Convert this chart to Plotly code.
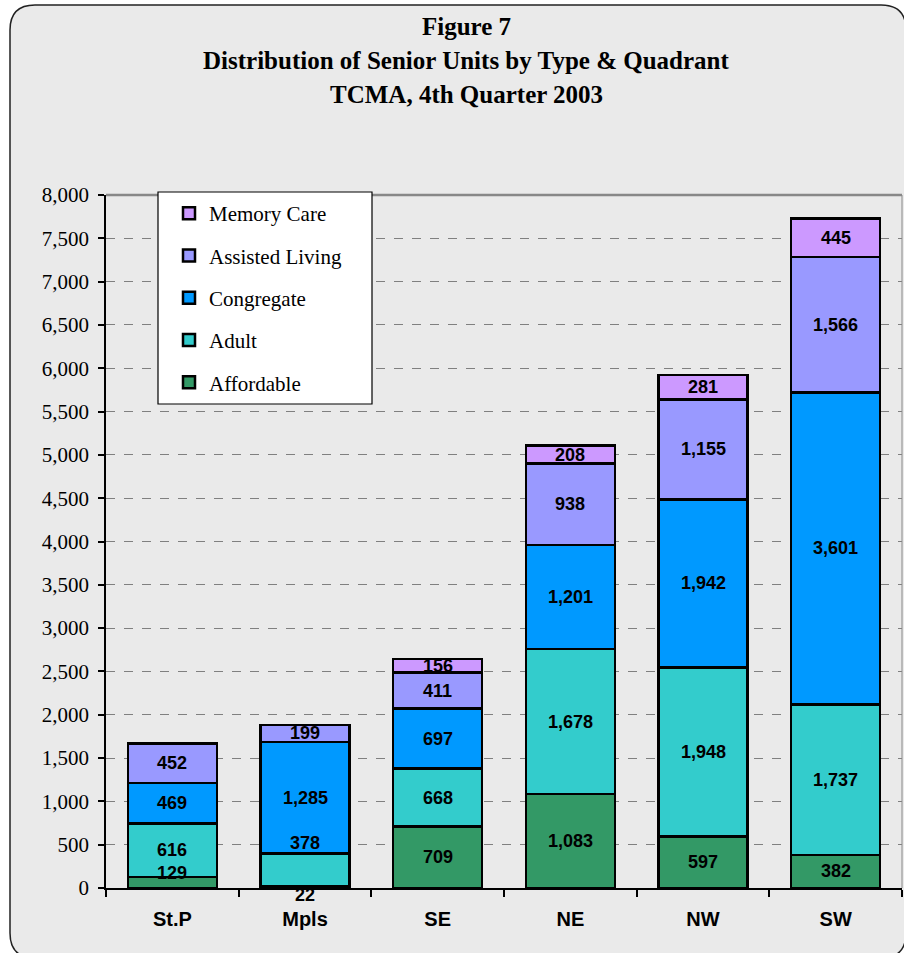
import plotly.graph_objects as go

# ---- data ----
categories = ["St.P", "Mpls", "SE", "NE", "NW", "SW"]
affordable = [129, 22, 709, 1083, 597, 382]
adult = [616, 378, 668, 1678, 1948, 1737]
congregate = [469, 1285, 697, 1201, 1942, 3601]
assisted = [452, 199, 411, 938, 1155, 1566]
memory = [None, None, 156, 208, 281, 445]
series_names = ["Affordable", "Adult", "Congregate", "Assisted Living", "Memory Care"]
series_values = [affordable, adult, congregate, assisted, memory]
y_ticks = list(range(0, 8001, 500))
title_lines = ["Figure 7", "Distribution of Senior Units by Type &amp; Quadrant", "TCMA, 4th Quarter 2003"]

# ---- style ----
colors = ["#339966", "#33CCCC", "#0099FF", "#9999FF", "#CC99FF"]
W, H = 904, 953
ML, MR, MT, MB = 106, 2, 195, 65
PW, PH = W - ML - MR, H - MT - MB
SERIF = "Liberation Serif, Times New Roman, serif"
SANS = "Liberation Sans, Arial, sans-serif"
# label nudges (px) mimicking the original label placement
label_shift = {("St.P", 0): 9, ("Mpls", 0): -8, ("Mpls", 1): 27}


def px(x):
    return (x - ML) / PW


def py(y):
    return (H - MB - y) / PH


fig = go.Figure()
n = len(series_names)
for i, (name, vals) in enumerate(zip(series_names, series_values)):
    fig.add_trace(go.Bar(
        x=categories, y=vals, name=name, legendgroup=name, legendrank=n - i,
        marker=dict(color=colors[i], line=dict(color="black", width=2.5)),
        hoverinfo="skip",
    ))

# data labels from the stacked values
annotations = []
for ci, cat in enumerate(categories):
    base = 0
    for si, vals in enumerate(series_values):
        v = vals[ci]
        if v is None:
            continue
        annotations.append(dict(
            x=cat, y=base + v / 2, xref="x", yref="y", text=f"{v:,}",
            showarrow=False, yshift=label_shift.get((cat, si), 0),
            font=dict(family=SANS, size=18, color="black", weight="bold"),
        ))
        base += v

# title lines
for t, ypx in zip(title_lines, [26, 60, 94]):
    annotations.append(dict(
        x=px(466), xref="paper", y=py(ypx), yref="paper", text=f"<b>{t}</b>",
        showarrow=False, xanchor="center", yanchor="middle",
        font=dict(family=SERIF, size=25, color="black"),
    ))

# rounded panel path
L, T, R, B, r = 10, 5, 906, 958, 25
path = (f"M {px(L+r)},{py(T)} L {px(R-r)},{py(T)} Q {px(R)},{py(T)} {px(R)},{py(T+r)} "
        f"L {px(R)},{py(B-r)} Q {px(R)},{py(B)} {px(R-r)},{py(B)} "
        f"L {px(L+r)},{py(B)} Q {px(L)},{py(B)} {px(L)},{py(B-r)} "
        f"L {px(L)},{py(T+r)} Q {px(L)},{py(T)} {px(L+r)},{py(T)} Z")
shapes = [
    dict(type="path", path=path, xref="paper", yref="paper", layer="below",
         fillcolor="#EAEAEA", line=dict(color="#222222", width=1.5)),
    # plot-area border (top and right)
    dict(type="line", xref="paper", yref="paper", x0=0, x1=1, y0=1, y1=1,
         line=dict(color="#888888", width=2.5), layer="above"),
    dict(type="line", xref="paper", yref="paper", x0=1, x1=1, y0=0, y1=1,
         line=dict(color="#888888", width=1), layer="above"),
    # legend box
    dict(type="rect", xref="paper", yref="paper", x0=px(158), x1=px(372), y0=py(404), y1=py(192),
         fillcolor="white", line=dict(color="black", width=1.2), layer="above"),
]

fig.update_layout(
    width=W, height=H, barmode="stack", bargap=0.33,
    margin=dict(l=ML, r=MR, t=MT, b=MB, pad=0),
    paper_bgcolor="white", plot_bgcolor="white",
    showlegend=True,
    legend=dict(x=px(169), y=py(193), xanchor="left", yanchor="top",
                traceorder="grouped", tracegroupgap=12,
                bgcolor="rgba(0,0,0,0)", borderwidth=0,
                font=dict(family=SERIF, size=21, color="black")),
    xaxis=dict(showline=True, linecolor="black", linewidth=1.5, ticks="outside",
               tickson="boundaries", ticklen=7, tickcolor="black", tickwidth=1.5,
               ticklabelstandoff=12,
               tickfont=dict(family=SANS, size=20, color="black", weight="bold"),
               showgrid=False),
    yaxis=dict(range=[0, 8000], tickvals=y_ticks, tickformat=",",
               showline=True, linecolor="black", linewidth=1.5, ticks="outside",
               ticklen=6, tickcolor="black", tickwidth=1.5, ticklabelstandoff=5,
               showgrid=True, gridcolor="#808080", gridwidth=1, griddash="dash",
               zeroline=False,
               tickfont=dict(family=SERIF, size=21, color="black")),
    annotations=annotations, shapes=shapes,
)

fig.write_html("out.html")
